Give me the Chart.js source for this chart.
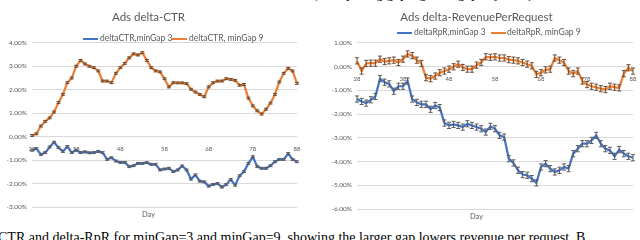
<!DOCTYPE html>
<html>
<head>
<meta charset="utf-8">
<script src="https://cdn.jsdelivr.net/npm/chart.js@4"></script>
<style>
  html, body { margin: 0; padding: 0; background: #fff; width: 640px; height: 240px; overflow: hidden; position: relative; }
  .box { position: absolute; top: 0; width: 320px; height: 226px; }
  #left { left: 0; }
  #right { left: 320px; }
  .cap { position: absolute; font-family: "Liberation Serif", serif; font-size: 14px; color: #000; white-space: nowrap; }
  .legend { position: absolute; height: 9px; font-family: Lato, "Liberation Sans", sans-serif; font-size: 8.5px; color: #595959; white-space: nowrap; }
  .legend span { position: absolute; top: 0; line-height: 9px; }
  .legend i { position: absolute; top: 4px; height: 2px; }
</style>
</head>
<body>
<div class="cap" style="top:-14px; left:300px;">ls (with pacing gaps, global gap adjusted).</div>
<div class="box" id="left"><canvas id="ctr"></canvas></div>
<div class="box" id="right"><canvas id="rpr"></canvas></div>
<div class="legend" id="legCtr" style="left:0; top:34px;"></div>
<div class="legend" id="legRpr" style="left:0; top:28px;"></div>
<div class="cap" style="top:230px; left:-2px;">CTR and delta-RpR for minGap=3 and minGap=9, showing the larger gap lowers revenue per request. B</div>
<script>
// days on the x axis
const days = [];
for (let d = 28; d <= 88; d++) days.push(d);

// delta-CTR (%)
const ctrGap3 = [
  -0.58, -0.51, -0.76, -0.68, -0.44, -0.24, -0.47, -0.63, -0.42, -0.68,
  -0.58, -0.68, -0.65, -0.69, -0.68, -0.63, -0.68, -0.97, -0.90, -1.04,
  -1.10, -1.10, -1.28, -1.24, -1.14, -1.14, -1.11, -1.18, -1.18, -1.42,
  -1.38, -1.35, -1.49, -1.42, -1.25, -1.42, -1.81, -1.63, -1.90, -1.93,
  -2.11, -2.04, -2.00, -2.15, -2.04, -1.83, -2.07, -1.67, -1.49, -1.14,
  -0.86, -1.28, -1.35, -1.35, -1.24, -1.07, -0.97, -0.97, -0.72, -0.97,
  -1.07
];
const ctrGap9 = [
  0.05, 0.12, 0.45, 0.65, 0.80, 1.05, 1.45, 1.80, 2.30, 2.50,
  3.00, 3.25, 3.10, 3.00, 2.94, 2.80, 2.37, 2.37, 2.30, 2.70,
  2.94, 3.12, 3.36, 3.53, 3.48, 3.58, 3.25, 2.94, 2.80, 2.76,
  2.47, 2.12, 2.30, 2.29, 2.29, 2.26, 2.02, 1.90, 1.80, 1.70,
  2.12, 2.30, 2.37, 2.37, 2.47, 2.44, 2.40, 2.19, 2.22, 1.64,
  1.31, 1.10, 0.96, 1.17, 1.43, 1.80, 2.33, 2.70, 2.91, 2.80,
  2.27
];

// delta-RevenuePerRequest (%)
const rprGap3 = [
  -1.37, -1.47, -1.54, -1.40, -1.26, -0.51, -0.66, -0.73, -1.04, -0.83,
  -0.83, -0.61, -1.37, -1.51, -1.59, -1.59, -1.80, -1.64, -1.73, -2.38,
  -2.48, -2.44, -2.48, -2.55, -2.41, -2.48, -2.55, -2.62, -2.76, -2.52,
  -2.62, -2.90, -2.97, -3.88, -4.06, -4.37, -4.55, -4.58, -4.72, -4.90,
  -4.23, -4.09, -4.30, -4.44, -4.37, -4.23, -4.30, -3.67, -3.46, -3.25,
  -3.25, -3.11, -2.90, -3.25, -3.46, -3.53, -3.78, -3.50, -3.67, -3.78,
  -3.84
];
const rprGap9 = [
  0.24, -0.19, 0.13, 0.14, 0.14, 0.31, 0.21, 0.24, 0.27, 0.17,
  0.31, 0.53, 0.46, 0.27, 0.13, -0.47, -0.51, -0.40, -0.26, -0.19,
  -0.11, -0.01, 0.10, -0.04, -0.11, -0.11, 0.06, 0.17, 0.41, 0.39,
  0.41, 0.36, 0.36, 0.29, 0.27, 0.24, 0.17, 0.10, 0.03, -0.33,
  -0.26, -0.14, -0.11, 0.36, 0.27, 0.17, -0.19, -0.30, -0.19, -0.61,
  -0.76, -0.83, -0.87, -0.93, -0.97, -0.83, -0.87, -0.90, -0.30, -0.05,
  -0.19
];

// error bar half widths (%)
const ctrErr = 0.04;
const rprErr = 0.13;

const BLUE = "#4472C4";
const ORANGE = "#ED7D31";
const GREY = "#595959";
const FONT = "Lato, 'Liberation Sans', sans-serif";

// draws the small error bars on every point
const errorBars = {
  id: "errorBars",
  afterDatasetsDraw(chart) {
    const ctx = chart.ctx;
    const y = chart.scales.y;
    chart.data.datasets.forEach((ds, i) => {
      if (!ds.err) return;
      const meta = chart.getDatasetMeta(i);
      ctx.save();
      ctx.strokeStyle = ds.errColor;
      ctx.lineWidth = 1;
      meta.data.forEach((pt, j) => {
        const v = ds.data[j];
        const top = y.getPixelForValue(v + ds.err);
        const bot = y.getPixelForValue(v - ds.err);
        ctx.beginPath();
        ctx.moveTo(pt.x, top);
        ctx.lineTo(pt.x, bot);
        ctx.moveTo(pt.x - 2, top);
        ctx.lineTo(pt.x + 2, top);
        ctx.moveTo(pt.x - 2, bot);
        ctx.lineTo(pt.x + 2, bot);
        ctx.stroke();
      });
      ctx.restore();
    });
  }
};

// html legend: [lineLeft, textLeft] pairs for each entry
function makeLegend(id, names, spots) {
  const el = document.getElementById(id);
  const colors = [BLUE, ORANGE];
  names.forEach((n, i) => {
    const line = document.createElement("i");
    line.style.left = spots[i][0] + "px";
    line.style.width = "15px";
    line.style.background = colors[i];
    const txt = document.createElement("span");
    txt.style.left = spots[i][1] + "px";
    txt.textContent = n;
    el.appendChild(line);
    el.appendChild(txt);
  });
}

function makeChart(id, title, s3, s9, err, yMin, yMax, pad, yWidth, titleGap) {
  return new Chart(document.getElementById(id), {
    type: "line",
    data: {
      labels: days,
      datasets: [
        { data: s3, borderColor: BLUE, backgroundColor: BLUE, borderWidth: 2.2,
          pointRadius: 0, tension: 0, err: err, errColor: "#5a5a5a" },
        { data: s9, borderColor: ORANGE, backgroundColor: ORANGE, borderWidth: 2.2,
          pointRadius: 0, tension: 0, err: err, errColor: "#6b4a30" },
      ],
    },
    options: {
      responsive: true,
      maintainAspectRatio: false,
      animation: false,
      layout: { padding: pad },
      plugins: {
        title: { display: true, text: title, color: GREY, font: { family: FONT, size: 11.5, weight: "normal" },
                 padding: { top: 10, bottom: titleGap } },
        subtitle: { display: true, text: "Day", position: "bottom", color: GREY,
                    font: { family: FONT, size: 7.5 }, padding: { top: 3, bottom: 0 } },
        legend: { display: false },
        tooltip: { enabled: false },
      },
      scales: {
        x: {
          type: "category",
          position: { y: 0 },
          offset: false,
          grid: { display: false },
          border: { display: false },
          ticks: {
            autoSkip: false, maxRotation: 0, padding: 1, color: GREY, font: { family: FONT, size: 6 },
            callback: function (v) {
              const d = days[v];
              return (d - 28) % 10 === 0 ? String(d) : "";
            },
          },
        },
        y: {
          min: yMin, max: yMax,
          border: { display: false },
          grid: { color: "#d9d9d9", drawTicks: false },
          afterFit: (s) => { s.width = yWidth; },
          ticks: { stepSize: 1, padding: 5, color: GREY, font: { family: FONT, size: 6.5 },
                   callback: (v) => v.toFixed(2) + "%" },
        },
      },
    },
    plugins: [errorBars],
  });
}

makeChart("ctr", "Ads delta-CTR", ctrGap3, ctrGap9, ctrErr, -3, 4,
  { left: 0, right: 23, top: 0, bottom: 7 }, 32, 19);
makeChart("rpr", "Ads delta-RevenuePerRequest", rprGap3, rprGap9, rprErr, -6, 1,
  { left: 0, right: 7, top: 0, bottom: 5 }, 37, 19);

makeLegend("legCtr", ["deltaCTR,minGap 3", "deltaCTR, minGap 9"], [[83, 100], [172, 189]]);
makeLegend("legRpr", ["deltaRpR,minGap 3", "deltaRpR, minGap 9"], [[397, 414], [491, 507]]);
</script>
</body>
</html>
